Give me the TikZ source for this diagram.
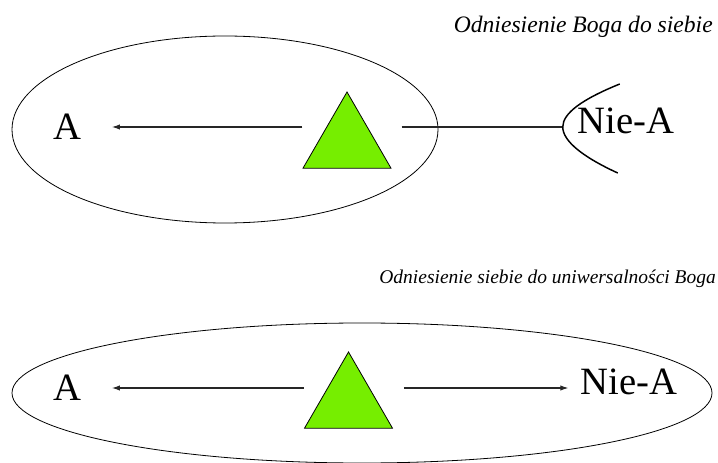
\documentclass[tikz,border=0pt]{standalone}
\usepackage{fontspec}
\setmainfont{Liberation Serif}
\usetikzlibrary{positioning,arrows.meta,shapes.geometric}
\definecolor{godgreen}{RGB}{118,238,0}

\begin{document}
\begin{tikzpicture}[
			x=0.75pt, y=-0.75pt,
			>={Latex[length=6pt,width=4pt]},
			term/.style={
				inner sep=0pt,
				font=\fontsize{29}{29}\selectfont
			},
			caption/.style={
				inner sep=0pt,
				anchor=base east,
				font=\fontsize{17.7}{17.7}\selectfont\itshape
			},
			god/.style={
				draw,
				fill=godgreen,
				regular polygon,
				regular polygon sides=3,
				minimum size=76.2pt,
				inner sep=0pt,
				line width=0.6pt
			},
			arr/.style={->,line width=0.8pt,draw=black!85},
			rim/.style={line width=1.1pt}
			]
			
			\useasboundingbox (0,0) rectangle (718,463);
			
			%--------------------------------------------------
			% Top: God towards himself
			%--------------------------------------------------
			
			\node (cap1) [caption] at (713,33) {Odniesienie Boga do siebie};
			
			\draw[line width=0.6pt] (225,129.5) ellipse [x radius=213, y radius=93.5];
			
			\node (god1) [god] at (347,142.8) {};
			
			\node (a1) [term] at (67,127) {A};
			
			\node (nie1) [term] at (626,121) {Nie-A};
			
			\coordinate (bend) at ([xshift=-11pt]nie1.west |- a1);
			
			\draw[arr] (god1.corner 2 |- a1) -- ([xshift=23pt]a1.east);
			
			\draw[line width=0.8pt,draw=black!85]
			([xshift=7.5pt]god1.corner 3 |- a1) -- (bend);
			
			\draw[rim]
			([shift={(57,-43)}]bend) .. controls ([shift={(20,-28)}]bend) and ([shift={(0,-14)}]bend) .. (bend)
			.. controls ([shift={(0,14)}]bend) and ([shift={(20,30)}]bend) .. ([shift={(55,46)}]bend);
			
			%--------------------------------------------------
			% Bottom: self towards universality of God
			%--------------------------------------------------
			
			\node (cap2) [caption,font=\fontsize{14.6}{14.6}\selectfont\itshape] at (716,284) {Odniesienie siebie do uniwersalności Boga};
			
			\draw[line width=0.6pt] (362,393) ellipse [x radius=350, y radius=70];
			
			\node (god2) [god] at (348.5,402.8) {};
			
			\node (a2) [term] at (67,388) {A};
			
			\node (nie2) [term] at (629,382) {Nie-A};
			
			\draw[arr] (god2.corner 2 |- a2) -- ([xshift=23pt]a2.east);
			
			\draw[arr] ([xshift=8pt]god2.corner 3 |- a2) -- ([xshift=-9pt]nie2.west |- a2);
			
		\end{tikzpicture}
\end{document}
